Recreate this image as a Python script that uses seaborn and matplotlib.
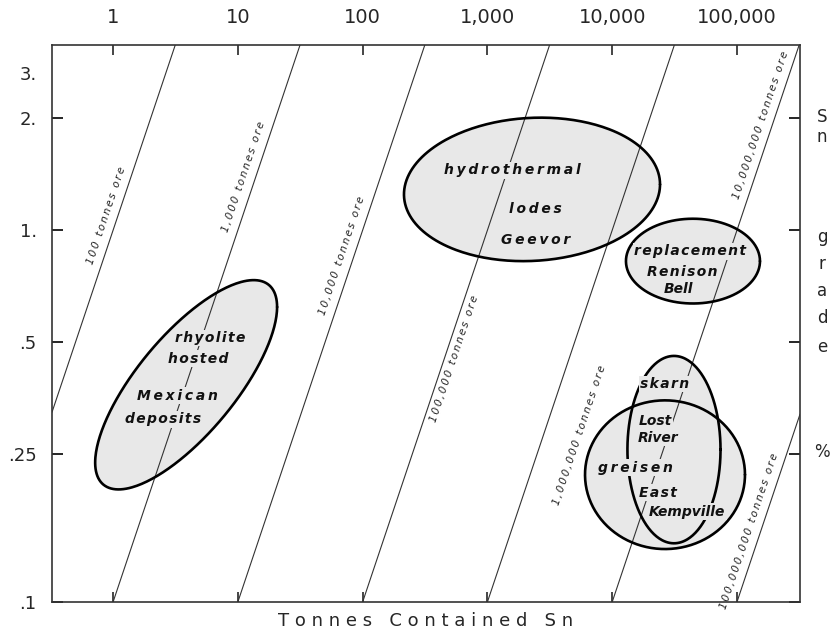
import numpy as np
import pandas as pd
import matplotlib
matplotlib.use("Agg")
import matplotlib.pyplot as plt
import seaborn as sns

# ---------------------------------
# DATA
# ---------------------------------
# lines of equal ore tonnage (tonnes ore)
ore_tonnes = [1e2, 1e3, 1e4, 1e5, 1e6, 1e7, 1e8]
ore_labels = ["100  tonnes  ore", "1,000  tonnes  ore", "10,000  tonnes  ore",
              "100,000  tonnes  ore", "1,000,000  tonnes  ore",
              "10,000,000  tonnes  ore", "100,000,000  tonnes  ore"]
ore_label_grade = [1.07, 1.36, 0.836, 0.46, 0.30, 1.87, 0.152]
# which side of its line each label sits (pixels, + = left/above)
ore_label_side = [11, 11, 11, -9, -34, 11, 11]

# deposit fields: centre (t Sn, % Sn), half-span in decades, tilt (deg)
field_names = ["rhyolite", "hydrothermal", "replacement", "skarn", "greisen"]
field_tonnes = [3.85, 2277, 44400, 31270, 26500]
field_grade = [0.384, 1.288, 0.826, 0.257, 0.22]
field_span_x = [0.729, 1.026, 0.537, 0.373, 0.641]
field_span_y = [0.2815, 0.193, 0.114, 0.252, 0.20]
field_tilt = [42, 86, 90, 90, 90]

# words written inside the fields
word_text = ["rhyolite", "hosted", "Mexican", "deposits",
             "hydrothermal", "lodes", "Geevor",
             "replacement", "Renison", "Bell",
             "skarn", "Lost", "River", "greisen", "East", "Kempville"]
word_tonnes = [5.99, 4.80, 3.26, 2.52,
               1574, 2406, 2451,
               42000, 36250, 33700,
               26500, 22000, 23300, 15240, 23300, 39750]
word_grade = [0.513, 0.451, 0.359, 0.31,
              1.448, 1.138, 0.94,
              0.878, 0.772, 0.695,
              0.386, 0.306, 0.277, 0.230, 0.197, 0.175]
# letter spacing per word: 0 none, 1 hair, 2 thin
word_gap = [1, 1, 2, 1,
            2, 2, 2,
            1, 1, 0,
            1, 0, 0, 2, 1, 0]

x_ticks = [1, 10, 100, 1000, 10000, 100000]
x_ticklabels = ["1", "10", "100", "1,000", "10,000", "100,000"]
y_ticks = [0.1, 0.25, 0.5, 1, 2]
y_ticklabels = [".1", ".25", ".5", "1.", "2."]

right_letters = ["S", "n", "g", "r", "a", "d", "e", "%"]
right_letter_px = [117, 137, 237, 264, 291, 318, 347, 452]

FILL = "#e8e8e8"
GAPS = ["", "\u200a", "\u2009"]


def spaced(word, gap=2):
    return GAPS[gap].join(word)


# ---------------------------------
# FIGURE
# ---------------------------------
sns.set_style("white")
plt.rcParams["font.family"] = ["DejaVu Sans"]

fig = plt.figure(figsize=(8.34, 6.37), dpi=100)
ax = fig.add_axes([52 / 834, 1 - 602 / 637, 748 / 834, 557 / 637])
ax.set_xscale("log")
ax.set_yscale("log")
xlim = (0.324, 3.2e5)
ylim = (0.1, 3.15)
ax.set_xlim(*xlim)
ax.set_ylim(*ylim)

# deposit fields (ellipses in log space)
t = np.linspace(0, 2 * np.pi, 300)
for i in range(len(field_names)):
    lx = np.log10(field_tonnes[i]) + field_span_x[i] * np.cos(t)
    ly = np.log10(field_grade[i]) + field_span_y[i] * np.cos(t - np.radians(field_tilt[i]))
    ax.fill(10 ** lx, 10 ** ly, color=FILL, lw=0, zorder=1)
for i in range(len(field_names)):
    lx = np.log10(field_tonnes[i]) + field_span_x[i] * np.cos(t)
    ly = np.log10(field_grade[i]) + field_span_y[i] * np.cos(t - np.radians(field_tilt[i]))
    ax.plot(10 ** lx, 10 ** ly, color="black", lw=1.9, zorder=3)

# ore tonnage lines
xs = np.logspace(np.log10(xlim[0]), np.log10(xlim[1]), 50)
lines = pd.DataFrame({
    "ore": np.repeat(ore_tonnes, len(xs)),
    "tonnes": np.tile(xs, len(ore_tonnes)),
})
lines["grade"] = lines["tonnes"] / lines["ore"] * 100
sns.lineplot(data=lines, x="tonnes", y="grade", units="ore", estimator=None,
             color="#333333", lw=0.8, ax=ax, zorder=2, legend=False)

p0 = ax.transData.transform((1, 1))
p1 = ax.transData.transform((10, 10))
angle = np.degrees(np.arctan2(p1[1] - p0[1], p1[0] - p0[0]))
nrm = np.radians(angle + 90)
for ore, lab, g, d in zip(ore_tonnes, ore_labels, ore_label_grade, ore_label_side):
    ax.annotate(" ".join(spaced(w) for w in lab.split(" ")),
                xy=(ore * g / 100, g), xytext=(d * np.cos(nrm), d * np.sin(nrm)),
                textcoords="offset pixels",
                rotation=angle, rotation_mode="anchor", ha="center", va="center",
                fontsize=7.4, style="italic", color="#222222", zorder=2)

for w, x, y, gp in zip(word_text, word_tonnes, word_grade, word_gap):
    ax.text(x, y, spaced(w, gp), fontsize=10, style="italic", fontweight="bold",
            ha="center", va="center", color="#111111", zorder=4,
            bbox=dict(boxstyle="square,pad=0.1", fc=FILL, ec="none"))

# axes
ax.set_xlabel("")
ax.set_ylabel("")
ax.minorticks_off()
ax.set_xticks(x_ticks)
ax.set_xticklabels(x_ticklabels)
ax.set_yticks(y_ticks)
ax.set_yticklabels(y_ticklabels)
ax.tick_params(axis="x", which="both", top=True, bottom=True, labeltop=True,
               labelbottom=False, direction="in", length=7, width=1.2,
               pad=13, labelsize=14)
ax.tick_params(axis="y", which="both", left=True, right=True, direction="in",
               length=8, width=1.4, pad=11, labelsize=13)
for s in ax.spines.values():
    s.set_color("#333333")
    s.set_linewidth(1.2)

ax.text(-15 / 748, (602 - 75) / 557, "3.", transform=ax.transAxes,
        ha="right", va="center", fontsize=13)
for letter, py in zip(right_letters, right_letter_px):
    ax.text(1 + 22 / 748, (602 - py) / 557, letter, transform=ax.transAxes,
            ha="center", va="center", fontsize=12)

ax.set_xlabel("   ".join(" ".join(w) for w in ["Tonnes", "Contained", "Sn"]),
              fontsize=13, labelpad=7)

fig.savefig("out.png", dpi=100, facecolor="white")
